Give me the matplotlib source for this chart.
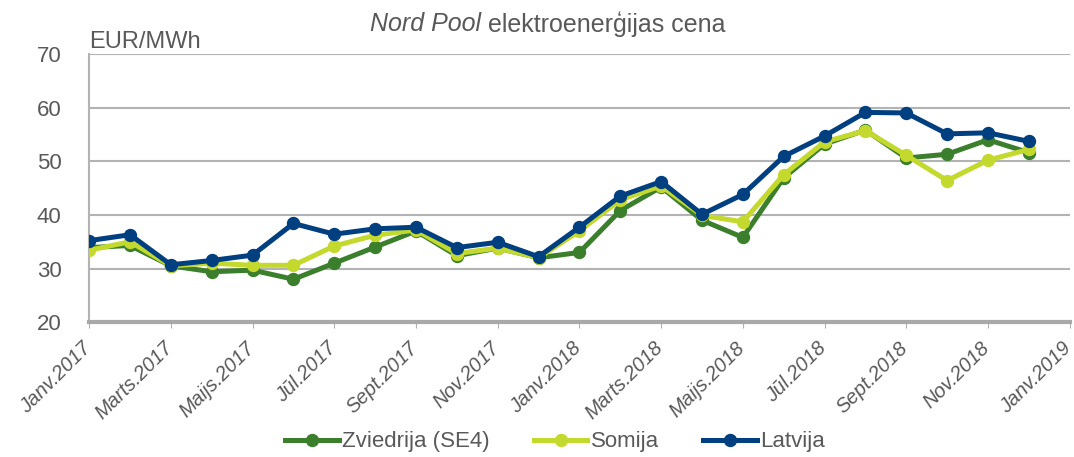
import numpy as np
import matplotlib
matplotlib.use("Agg")
import matplotlib.pyplot as plt
import matplotlib.transforms as mtransforms

plt.rcParams['font.family'] = ['Liberation Sans', 'DejaVu Sans']

menesi = np.arange(24)
tick_pos = np.arange(0, 25, 2)
tick_labels = ["Janv.2017", "Marts.2017", "Maijs.2017", "Jūl.2017", "Sept.2017", "Nov.2017",
               "Janv.2018", "Marts.2018", "Maijs.2018", "Jūl.2018", "Sept.2018", "Nov.2018",
               "Janv.2019"]

zviedrija = [33.9, 34.3, 30.5, 29.4, 29.7, 28.0, 31.0, 34.0, 37.0, 32.4, 33.8, 32.0,
             33.0, 40.8, 45.2, 39.0, 35.8, 46.9, 53.2, 55.8, 50.6, 51.3, 54.0, 51.6]
somija = [33.4, 35.0, 30.5, 31.0, 30.6, 30.6, 34.2, 36.2, 37.2, 32.8, 33.8, 32.0,
          37.0, 42.8, 45.4, 39.9, 38.7, 47.5, 53.6, 55.7, 51.1, 46.4, 50.2, 52.2]
latvija = [35.2, 36.3, 30.7, 31.5, 32.5, 38.4, 36.4, 37.4, 37.7, 33.9, 34.9, 32.2,
           37.7, 43.5, 46.2, 40.1, 43.8, 50.9, 54.7, 59.1, 59.0, 55.1, 55.3, 53.7]

teksts = '#595959'
fig = plt.figure(figsize=(10.74, 4.57), dpi=100)
ax = fig.add_axes([0.083, 0.295, 0.913, 0.587])

ax.plot(menesi, zviedrija, '-o', color='#3b7f2d', lw=3.6, ms=8.6, label='Zviedrija (SE4)', zorder=3)
ax.plot(menesi, somija, '-o', color='#c4d92e', lw=3.6, ms=8.6, label='Somija', zorder=4)
ax.plot(menesi, latvija, '-o', color='#003f80', lw=3.6, ms=8.6, label='Latvija', zorder=5)

ax.set_xlim(0, 24)
ax.set_ylim(20, 70)
ax.set_yticks(range(20, 71, 10))
ax.set_xticks(tick_pos)
ax.set_xticklabels([])
# x ass etiķetes ar nelielu nobīdi pa kreisi
nobide = mtransforms.ScaledTranslation(-0.08, -0.16, fig.dpi_scale_trans)
for x, txt in zip(tick_pos, tick_labels):
    ax.text(x, 0, txt, transform=ax.get_xaxis_transform() + nobide, rotation=45,
            ha='right', va='top', rotation_mode='anchor', fontsize=14.5, color=teksts,
            style='italic')
ax.tick_params(axis='y', labelsize=16, colors=teksts, length=0, pad=20)
ax.tick_params(axis='x', length=4, color='#b0b0b0')
ax.grid(axis='y', color='#b3b3b3', lw=1.5)
ax.set_axisbelow(True)
for s in ['top', 'right']:
    ax.spines[s].set_visible(False)
ax.spines['left'].set_color('#b3b3b3')
ax.spines['left'].set_linewidth(1.5)
ax.spines['bottom'].set_color('#a8a8a8')
ax.spines['bottom'].set_linewidth(3)

ax.text(0.0, 1.005, 'EUR/MWh', transform=ax.transAxes, fontsize=17, color=teksts, va='bottom')

fig.text(0.448, 0.948, 'Nord Pool', fontsize=18, color=teksts, ha='right', va='center', style='italic')
fig.text(0.448, 0.948, ' elektroenerģijas cena', fontsize=18, color=teksts, ha='left', va='center')

ax.legend(loc='center', bbox_to_anchor=(0.475, -0.446), ncol=3, frameon=False,
          fontsize=16, labelcolor=teksts, handlelength=2.4, handletextpad=0.15, columnspacing=2.0)

fig.savefig('out.png', dpi=100)
